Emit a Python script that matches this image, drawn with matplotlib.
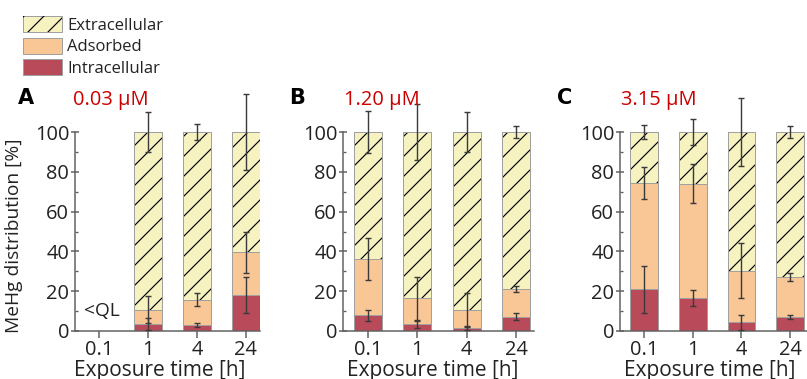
import numpy as np
import matplotlib
matplotlib.use("Agg")
import matplotlib.pyplot as plt
from matplotlib.patches import Patch
from matplotlib.ticker import MultipleLocator

plt.rcParams['font.family'] = ['Open Sans', 'DejaVu Sans']
plt.rcParams['hatch.linewidth'] = 0.7

# ---------------- data ----------------
time_labels = ['0.1', '1', '4', '24']
panel_letters = ['A', 'B', 'C']
concentrations = ['0.03 µM', '1.20 µM', '3.15 µM']

# mean values [%] (segment heights), NaN = below quantification limit
intracellular_A = [np.nan, 3.3, 2.9, 18.0]
adsorbed_A      = [np.nan, 7.5, 12.9, 21.5]
extracellular_A = [np.nan, 89.2, 84.2, 60.5]
intracellular_B = [7.8, 3.3, 1.4, 7.2]
adsorbed_B      = [28.5, 13.2, 9.2, 13.8]
extracellular_B = [63.7, 83.5, 89.4, 79.0]
intracellular_C = [21.0, 16.6, 4.4, 6.8]
adsorbed_C      = [53.3, 57.4, 25.8, 20.1]
extracellular_C = [25.7, 26.0, 69.8, 73.1]

# standard deviations [%]
sd_intra_A = [np.nan, 3.0, 0.9, 9.0]
sd_ads_A   = [np.nan, 6.8, 3.3, 10.3]
sd_extra_A = [np.nan, 10.0, 4.2, 19.0]
sd_intra_B = [2.6, 1.8, 1.0, 1.7]
sd_ads_B   = [10.6, 10.8, 8.4, 1.5]
sd_extra_B = [10.4, 14.0, 9.8, 3.2]
sd_intra_C = [11.8, 4.0, 3.7, 1.0]
sd_ads_C   = [8.2, 9.9, 13.8, 2.0]
sd_extra_C = [3.5, 6.6, 17.3, 3.1]

panels = [
    (intracellular_A, adsorbed_A, extracellular_A, sd_intra_A, sd_ads_A, sd_extra_A),
    (intracellular_B, adsorbed_B, extracellular_B, sd_intra_B, sd_ads_B, sd_extra_B),
    (intracellular_C, adsorbed_C, extracellular_C, sd_intra_C, sd_ads_C, sd_extra_C),
]

# ---------------- style ----------------
c_extra = '#f6f3c0'
c_ads = '#f9c795'
c_intra = '#b94a59'
c_edge = '#a0a0a0'
c_err = '#3a3a3a'
c_axis = '#606060'
c_text = '#222222'
c_red = '#cc0000'

W, H = 807, 379
DPI = 120
fig = plt.figure(figsize=(W / DPI, H / DPI), dpi=DPI)

def fx(px):
    return px / W

def fy(py):
    return 1 - py / H

axes_px = [(75, 260), (343, 534), (620, 807)]
xlims = [(-0.49, 3.29), (-0.5, 3.36), (-0.5, 3.35)]
top_px, bot_px = 132, 331
letter_x = [18, 289, 557]
conc_x = [73, 344, 621]
xlabel_cx = [160, 433, 710]

x = np.arange(len(time_labels))
bw = 0.57

for i, (intra, ads, extra, s_i, s_a, s_e) in enumerate(panels):
    l, r = axes_px[i]
    ax = fig.add_axes([fx(l), fy(bot_px), fx(r - l), (bot_px - top_px) / H])
    intra = np.array(intra, float)
    ads = np.array(ads, float)
    extra = np.array(extra, float)
    b1 = intra
    b2 = intra + ads
    b3 = intra + ads + extra

    ax.bar(x, intra, bw, color=c_intra, edgecolor=c_edge, linewidth=0.6, zorder=2)
    ax.bar(x, ads, bw, bottom=b1, color=c_ads, edgecolor=c_edge, linewidth=0.6, zorder=2)
    ax.bar(x, extra, bw, bottom=b2, color=c_extra, edgecolor='none', linewidth=0, zorder=2)
    ax.bar(x, extra, bw, bottom=b2, fill=False, hatch='//', edgecolor='black',
           linewidth=0, zorder=3)
    ax.bar(x, extra, bw, bottom=b2, fill=False, edgecolor=c_edge, linewidth=0.6, zorder=4)

    for yv, sd in [(b1, s_i), (b2, s_a), (b3, s_e)]:
        ax.errorbar(x, yv, yerr=np.array(sd, float), fmt='none', ecolor=c_err,
                    elinewidth=0.85, capsize=1.8, capthick=0.85, zorder=5, clip_on=False)

    ax.set_xlim(*xlims[i])
    ax.set_ylim(0, 100)
    ax.set_xticks(x)
    ax.set_xticklabels(time_labels)
    ax.set_yticks([0, 20, 40, 60, 80, 100])
    ax.yaxis.set_minor_locator(MultipleLocator(10))
    for s in ['top', 'right']:
        ax.spines[s].set_visible(False)
    for s in ['left', 'bottom']:
        ax.spines[s].set_color(c_axis)
        ax.spines[s].set_linewidth(0.9)
    ax.tick_params(axis='y', which='major', direction='inout', length=5, width=0.9,
                   color=c_axis, labelsize=12, labelcolor=c_text, pad=1)
    ax.tick_params(axis='y', which='minor', direction='in', length=1.8, width=0.8,
                   color=c_axis)
    ax.tick_params(axis='x', which='major', direction='out', length=4, width=0.9,
                   color=c_axis, labelsize=12, labelcolor=c_text, pad=1.5)

    if i == 0:
        ax.text(0.05, 10, '<QL', ha='center', va='center', fontsize=11.5, color=c_text)

    fig.text(fx(letter_x[i]), fy(104), panel_letters[i], fontsize=12.5,
             fontweight='bold', color='black', ha='left', va='baseline',
             family=['DejaVu Sans'])
    fig.text(fx(conc_x[i]), fy(105), concentrations[i], fontsize=12,
             color=c_red, ha='left', va='baseline')
    fig.text(fx(xlabel_cx[i]), fy(376), 'Exposure time [h]', fontsize=12.5,
             color=c_text, ha='center', va='baseline')

fig.text(fx(14), fy(236), 'MeHg distribution [%]', rotation=90, fontsize=11.5,
         color=c_text, ha='center', va='center')

handles = [
    (Patch(facecolor=c_extra, edgecolor=c_edge, linewidth=0.6),
     Patch(fill=False, hatch='//', edgecolor='black', linewidth=0)),
    Patch(facecolor=c_ads, edgecolor=c_edge, linewidth=0.6),
    Patch(facecolor=c_intra, edgecolor=c_edge, linewidth=0.6),
]
labels = ['Extracellular', 'Adsorbed', 'Intracellular']
fig.legend(handles, labels, loc='upper left', bbox_to_anchor=(fx(18), fy(11)),
           frameon=False, fontsize=10, handlelength=2.35, handleheight=1.08,
           labelspacing=0.25, handletextpad=0.3, borderpad=0.3, borderaxespad=0,
           labelcolor=c_text)

fig.savefig('out.png', dpi=DPI)
